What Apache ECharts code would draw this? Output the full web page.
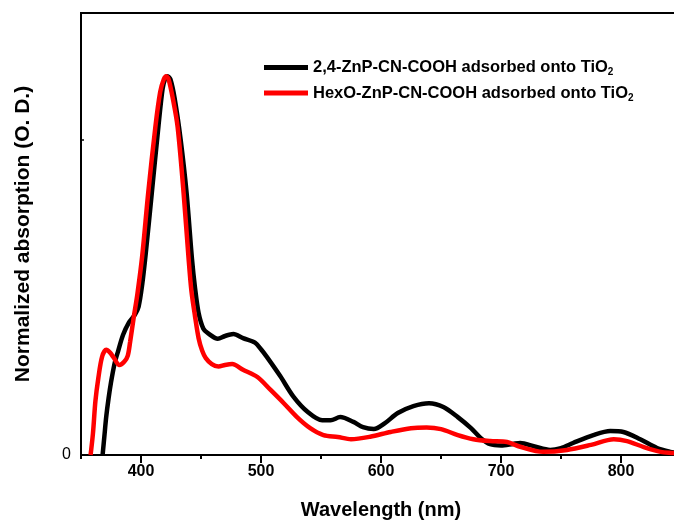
<!DOCTYPE html>
<html>
<head>
<meta charset="utf-8">
<script src="https://cdn.jsdelivr.net/npm/echarts@6/dist/echarts.min.js"></script>
<style>
  html, body { margin: 0; padding: 0; background: #fff; }
  #main { width: 674px; height: 523px; }
</style>
</head>
<body>
<div id="main"></div>
<script>
// 吸附在TiO2上的两种卟啉染料的归一化吸收光谱
var seriesNames = ['2,4-ZnP-CN-COOH adsorbed onto TiO2', 'HexO-ZnP-CN-COOH adsorbed onto TiO2'];

// 2,4-ZnP-CN-COOH (black)
var znpNm  = [368, 369.5, 371, 373, 375, 378, 381, 385, 390, 395, 398, 401, 404, 409, 414.5, 418, 420, 422, 424.5, 428, 433, 438, 442.5, 445, 448, 452, 456, 464, 470, 477, 485, 495, 500, 505, 516, 527, 539, 551, 558, 566, 577, 585, 594, 603, 614, 627, 640, 652, 664, 675, 683, 691, 700, 710, 716, 728, 741, 750, 760, 777, 791, 802, 816, 830, 841, 850];
var znpAbs = [0, 0.06, 0.12, 0.18, 0.23, 0.29, 0.33, 0.38, 0.42, 0.445, 0.47, 0.54, 0.64, 0.83, 1.04, 1.16, 1.19, 1.2, 1.19, 1.13, 1.0, 0.83, 0.62, 0.53, 0.45, 0.40, 0.385, 0.368, 0.377, 0.383, 0.37, 0.356, 0.335, 0.31, 0.25, 0.185, 0.136, 0.11, 0.11, 0.12, 0.105, 0.088, 0.082, 0.1, 0.133, 0.155, 0.164, 0.152, 0.12, 0.085, 0.054, 0.034, 0.03, 0.035, 0.038, 0.027, 0.016, 0.022, 0.038, 0.063, 0.076, 0.073, 0.05, 0.022, 0.01, 0.004];

// HexO-ZnP-CN-COOH (red)
var hexNm  = [358, 360, 362, 364.5, 367.5, 371, 374, 377, 382, 386, 389, 391, 394, 397, 401, 406, 412, 416, 419, 421, 423, 426.5, 430.5, 435.5, 439.5, 442, 445, 448, 451, 454, 459, 464.5, 470, 476, 485, 497, 508, 519, 530, 541, 552, 564, 575, 591, 608, 625, 638, 650, 664, 677, 691, 705, 716, 735, 755, 775, 794, 805, 819, 833, 844, 850];
var hexAbs = [0, 0.07, 0.17, 0.245, 0.31, 0.333, 0.325, 0.31, 0.285, 0.295, 0.315, 0.36, 0.437, 0.51, 0.63, 0.83, 1.04, 1.15, 1.19, 1.2, 1.19, 1.13, 1.04, 0.83, 0.63, 0.52, 0.44, 0.37, 0.33, 0.307, 0.288, 0.28, 0.285, 0.288, 0.27, 0.247, 0.206, 0.164, 0.12, 0.085, 0.063, 0.057, 0.05, 0.058, 0.073, 0.085, 0.087, 0.082, 0.063, 0.05, 0.044, 0.041, 0.026, 0.01, 0.016, 0.032, 0.05, 0.044, 0.025, 0.01, 0.006, 0.003];

var majorTicks = [400, 500, 600, 700, 800];
var minorTicks = [350, 450, 550, 650, 750, 850];

function zip(xs, ys) {
    return xs.map(function (x, i) { return [x, ys[i]]; });
}

var FONT = "'Liberation Sans', Arial, sans-serif";
var chart = echarts.init(document.getElementById('main'));

option = {
    animation: false,
    backgroundColor: '#fff',
    grid: {
        left: 81, top: 13, width: 600, bottom: 68,
        outerBoundsMode: 'none',
        show: true, borderColor: '#000', borderWidth: 2
    },
    legend: {
        orient: 'vertical',
        left: 259, top: 54,
        itemWidth: 44, itemHeight: 5, itemGap: 7,
        icon: 'rect',
        data: seriesNames,
        formatter: function (name) {
            return '{t|' + name.slice(0, -1) + '}{s|' + name.slice(-1) + '}';
        },
        textStyle: {
            rich: {
                t: { fontFamily: FONT, fontWeight: 'bold', fontSize: 16.5, color: '#000', lineHeight: 20 },
                s: { fontFamily: FONT, fontWeight: 'bold', fontSize: 10, color: '#000', lineHeight: 10, verticalAlign: 'bottom' }
            }
        }
    },
    xAxis: [
        {
            type: 'value', min: 350, max: 850,
            name: 'Wavelength (nm)', nameLocation: 'middle', nameGap: 45,
            nameTextStyle: { fontFamily: FONT, fontWeight: 'bold', fontSize: 20, color: '#000' },
            axisLine: { lineStyle: { color: '#000', width: 2 } },
            axisTick: { customValues: majorTicks, length: 8, lineStyle: { color: '#000', width: 2 } },
            axisLabel: { customValues: majorTicks, margin: 9, fontFamily: FONT, fontWeight: 'bold', fontSize: 16, color: '#000' },
            splitLine: { show: false }
        },
        {
            type: 'value', min: 350, max: 850, position: 'bottom',
            axisLine: { show: false },
            axisTick: { customValues: minorTicks, length: 4, lineStyle: { color: '#000', width: 2 } },
            axisLabel: { show: false },
            splitLine: { show: false }
        }
    ],
    yAxis: {
        type: 'value', min: 0, max: 1.4, interval: 1,
        name: 'Normalized absorption (O. D.)', nameLocation: 'middle', nameGap: 47,
        nameTextStyle: { fontFamily: FONT, fontWeight: 'bold', fontSize: 21, color: '#000' },
        axisLine: { show: true, lineStyle: { color: '#000', width: 2 } },
        axisTick: { show: true, inside: true, length: 3, lineStyle: { color: '#000', width: 1.5 } },
        axisLabel: {
            margin: 10, fontFamily: FONT, fontSize: 16, color: '#000',
            formatter: function (v) { return v === 0 ? '0' : ''; }
        },
        splitLine: { show: false }
    },
    series: [
        {
            name: seriesNames[0], type: 'line', xAxisIndex: 0,
            data: zip(znpNm, znpAbs),
            showSymbol: false, smooth: 0.3,
            itemStyle: { color: '#000' },
            lineStyle: { color: '#000', width: 4.5 }
        },
        {
            name: seriesNames[1], type: 'line', xAxisIndex: 0,
            data: zip(hexNm, hexAbs),
            showSymbol: false, smooth: 0.3,
            itemStyle: { color: '#ff0000' },
            lineStyle: { color: '#ff0000', width: 4.5 }
        }
    ]
};
chart.setOption(option);
</script>
</body>
</html>
